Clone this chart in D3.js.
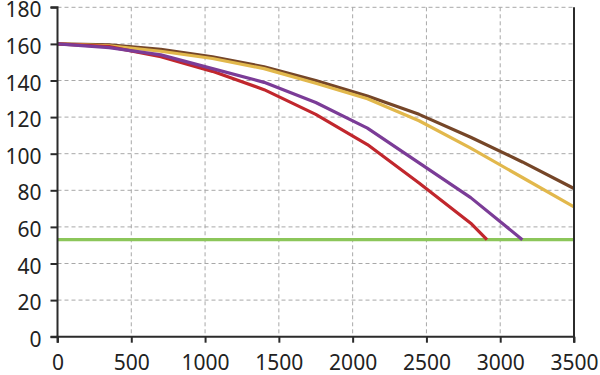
<!DOCTYPE html>
<html><head><meta charset="utf-8">
<script src="https://cdn.jsdelivr.net/npm/d3@7"></script>
<style>html,body{margin:0;padding:0;background:#fff;}svg{display:block;}</style>
</head><body>
<svg id="c" width="600" height="375"></svg>
<script>
const xTicks = [0, 500, 1000, 1500, 2000, 2500, 3000, 3500];
const yTicks = [0, 20, 40, 60, 80, 100, 120, 140, 160, 180];

const brownX = [0, 350, 700, 1050, 1400, 1750, 2100, 2450, 2800, 3150, 3500];
const brownY = [160, 159.5, 157, 153, 147.5, 140, 131.5, 121.5, 109, 95.5, 81];
const yellowX = [0, 350, 700, 1050, 1400, 1750, 2100, 2450, 2800, 3150, 3500];
const yellowY = [160, 159, 156, 152, 146.5, 138.5, 130, 118, 103, 87, 71];
const purpleX = [0, 350, 700, 1050, 1400, 1750, 2100, 2450, 2800, 3150];
const purpleY = [160, 158, 154, 146.5, 139, 128, 114, 95, 76, 53];
const redX = [0, 350, 700, 1050, 1400, 1750, 2100, 2450, 2800, 2910];
const redY = [160, 158.5, 153, 145, 135, 121.5, 105, 84, 62, 53];
const greenX = [0, 3500];
const greenY = [53, 53];

const series = [
  {x: greenX, y: greenY, color: "#8cc65a"},
  {x: brownX, y: brownY, color: "#754628"},
  {x: yellowX, y: yellowY, color: "#e2b84c"},
  {x: redX, y: redY, color: "#c1272d"},
  {x: purpleX, y: purpleY, color: "#7b3c97"}
];

const svg = d3.select("#c");
const L = 57.5, R = 574, T = 7.3, B = 336.7;
const x = d3.scaleLinear().domain([0, 3500]).range([L, R]);
const y = d3.scaleLinear().domain([0, 180]).range([B, T]);

const grid = svg.append("g");
grid.selectAll("line.h").data(yTicks.filter(d => d > 0)).join("line")
  .attr("x1", L).attr("x2", R).attr("y1", d => y(d)).attr("y2", d => y(d))
  .attr("stroke", "#a8a8a8").attr("stroke-width", 1).attr("stroke-dasharray", "4,3");
grid.selectAll("line.v").data(xTicks.filter(d => d > 0 && d < 3500)).join("line")
  .attr("y1", T).attr("y2", B).attr("x1", d => x(d)).attr("x2", d => x(d))
  .attr("stroke", "#a8a8a8").attr("stroke-width", 1).attr("stroke-dasharray", "4,3");

const line = d3.line().x(d => x(d[0])).y(d => y(d[1]));
svg.append("g").selectAll("path").data(series).join("path")
  .attr("d", s => line(s.x.map((v, i) => [v, s.y[i]])))
  .attr("fill", "none").attr("stroke", s => s.color).attr("stroke-width", 3.2)
  .attr("stroke-linejoin", "round");

const font = "'Noto Sans', sans-serif";
const xa = svg.append("g").attr("transform", `translate(0,${B})`)
  .call(d3.axisBottom(x).tickValues(xTicks).tickSize(6).tickPadding(12).tickFormat(d3.format("d")));
const ya = svg.append("g").attr("transform", `translate(${L},0)`)
  .call(d3.axisLeft(y).tickValues(yTicks).tickSize(7).tickPadding(9).tickFormat(d3.format("d")));
[xa, ya].forEach(a => {
  a.select(".domain").attr("stroke", "#2b2b2b").attr("stroke-width", 2);
  a.selectAll(".tick line").attr("stroke", "#2b2b2b").attr("stroke-width", 2);
  a.selectAll("text").attr("fill", "#222").style("font-family", font).style("font-size", "21px");
});
ya.selectAll("text").attr("dy", "0.455em");
ya.select(".domain").attr("d", `M-7,${T}H0V${B}H-7`);
xa.select(".domain").attr("d", `M${L},6V0H${R}V6`);
svg.append("line").attr("x1", R).attr("x2", R).attr("y1", T).attr("y2", B)
  .attr("stroke", "#2b2b2b").attr("stroke-width", 2);
</script>
</body></html>
